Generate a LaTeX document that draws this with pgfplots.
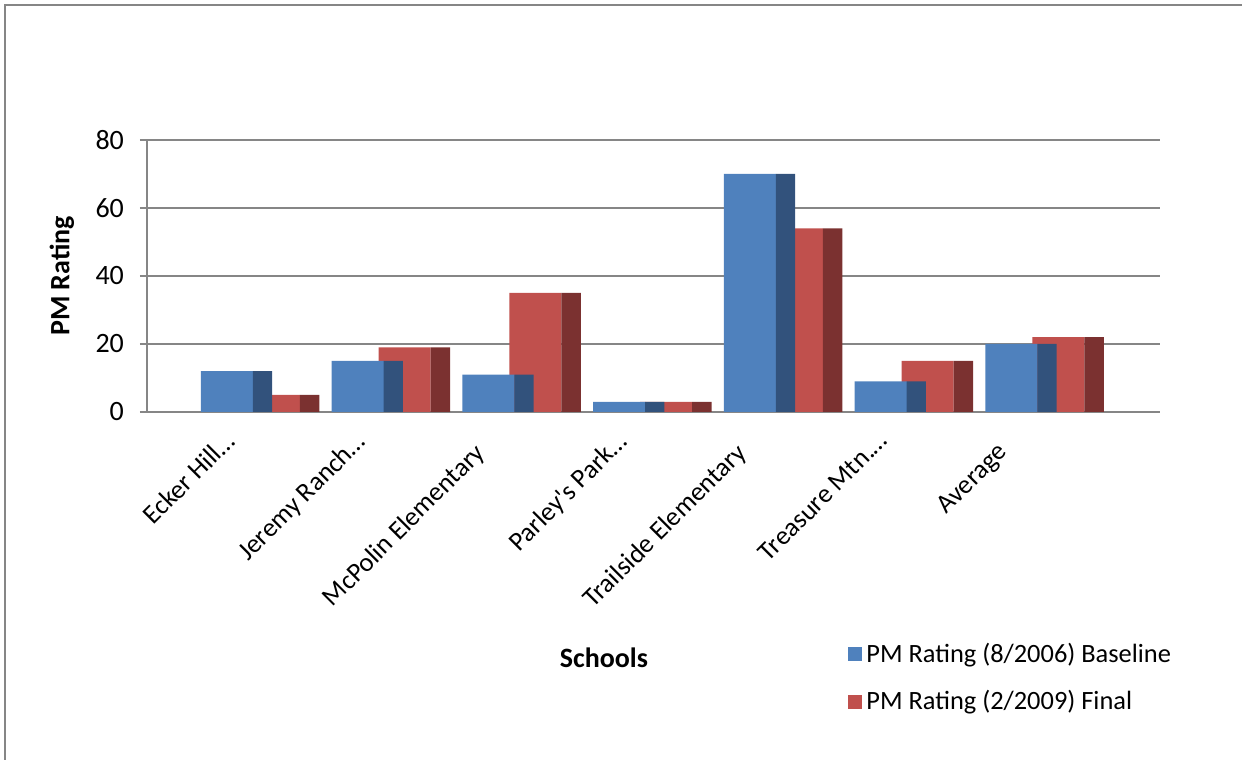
\documentclass[border=0pt]{standalone}
\usepackage{fontspec}
\setmainfont{Carlito}
\usepackage{pgfplots}
\usepackage{pgfplotstable}
\pgfplotsset{compat=1.18}
\definecolor{blueF}{HTML}{4F81BD}
\definecolor{blueS}{HTML}{32527C}
\definecolor{redF}{HTML}{C0504D}
\definecolor{redS}{HTML}{7B3130}
\definecolor{gridc}{HTML}{868686}
\pgfplotstableread{
x base final
0 12 5
1 15 19
2 11 35
3 3 3
4 70 54
5 9 15
6 20 22
}\data
\newcommand{\ellab}[1]{#1\kern-8pt\relax}
\begin{document}
\begin{tikzpicture}
\useasboundingbox (0,0) rectangle (621pt,380pt);
\draw[color=gridc, line width=1pt] (2.5pt,0pt) -- (2.5pt,377.5pt) -- (621pt,377.5pt);
\begin{axis}[
  at={(73.5pt,174pt)}, anchor=south west,
  scale only axis, width=506.5pt, height=136pt,
  xmin=-0.868, xmax=6.88, ymin=0, ymax=80,
  ytick={0,20,40,60,80},
  xtick={0,1,2,3,4,5,6},
  xticklabels={\ellab{Ecker Hill…}, \ellab{Jeremy Ranch…}, McPolin Elementary, \ellab{Parley\textquotesingle s Park…}, Trailside Elementary, \ellab{Treasure Mtn.…}, Average},
  axis lines=left, axis line style={-, draw=gridc, line width=1pt},
  ymajorgrids, grid style={draw=gridc, line width=1pt},
  tick align=outside, major tick length=3.5pt,
  ytick style={draw=gridc, line width=1pt},
  xtick style={draw=none},
  /pgf/number format/assume math mode=true,
  yticklabel style={font=\fontsize{14}{16}\selectfont, xshift=-4.5pt},
  xticklabel style={font=\fontsize{13.3}{15}\selectfont, rotate=45, anchor=north east, inner sep=0pt, xshift=-25pt, yshift=9.5pt},
  ylabel={PM Rating},
  ylabel style={font=\fontsize{14}{16}\selectfont\bfseries, at={(axis description cs:-0.084,0.5)}, anchor=center},
  xlabel={Schools},
  xlabel style={font=\fontsize{14}{16}\selectfont\bfseries, at={(axis description cs:0.451,-0.904)}, anchor=center},
  legend style={at={(axis description cs:0.692,-0.834)}, anchor=north west, draw=none, fill=none,
    font=\fontsize{13.2}{15}\selectfont, row sep=8.5pt, inner sep=0pt},
  legend cell align=left,
  legend image code/.code={\fill[#1] (0pt,-3.5pt) rectangle (7pt,3.5pt);},
]
\addlegendimage{fill=blueF, draw=none}
\addlegendentry{PM Rating (8/2006) Baseline}
\addlegendimage{fill=redF, draw=none}
\addlegendentry{PM Rating (2/2009) Final}
\addplot[ybar, bar width=0.398, bar shift=0.103, fill=redF, draw=none, forget plot] table[x=x, y=final]{\data};
\addplot[ybar, bar width=0.148, bar shift=0.376, fill=redS, draw=none, forget plot] table[x=x, y=final]{\data};
\addplot[ybar, bar width=0.398, bar shift=-0.256, fill=blueF, draw=none, forget plot] table[x=x, y=base]{\data};
\addplot[ybar, bar width=0.148, bar shift=0.0155, fill=blueS, draw=none, forget plot] table[x=x, y=base]{\data};
\end{axis}
\end{tikzpicture}
\end{document}
